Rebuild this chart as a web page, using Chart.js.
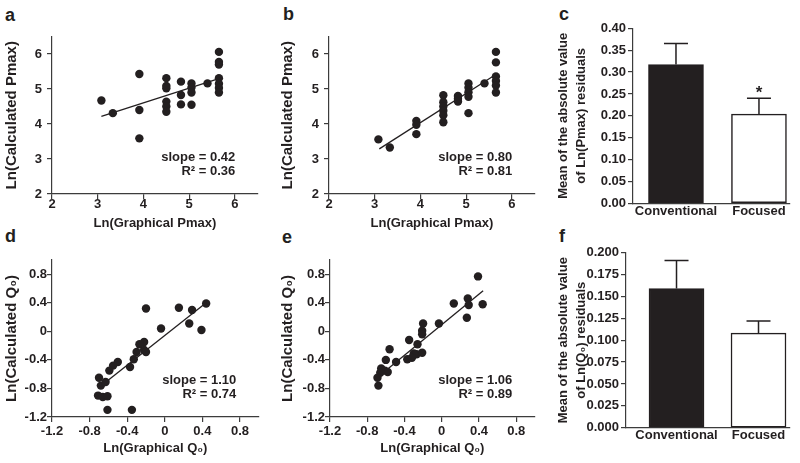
<!DOCTYPE html>
<html>
<head>
<meta charset="utf-8">
<script src="https://cdn.jsdelivr.net/npm/chart.js@4.4.1/dist/chart.umd.min.js"></script>
<style>
  body { margin: 0; background: #fff; width: 800px; height: 463px; position: relative; overflow: hidden; }
  canvas { position: absolute; }
  .tag { position: absolute; font: bold 18px "Liberation Sans", Arial, sans-serif; line-height: 1; color: #231f20; }
</style>
</head>
<body>
<div class="tag" style="left:5px;top:6px">a</div>
<div class="tag" style="left:283px;top:5px">b</div>
<div class="tag" style="left:559px;top:5px">c</div>
<div class="tag" style="left:5px;top:227px">d</div>
<div class="tag" style="left:282px;top:228px">e</div>
<div class="tag" style="left:559px;top:227px">f</div>
<canvas id="chartA"></canvas>
<canvas id="chartB"></canvas>
<canvas id="chartC"></canvas>
<canvas id="chartD"></canvas>
<canvas id="chartE"></canvas>
<canvas id="chartF"></canvas>
<script>
// --- data ---
// a: conventional, Ln(Pmax)
const aX = [3.08, 3.33, 3.91, 3.91, 3.91, 4.50, 4.50, 4.50, 4.50, 4.50, 4.50, 4.82, 4.82, 4.82,
            5.05, 5.05, 5.05, 5.05, 5.40, 5.65, 5.65, 5.65, 5.65, 5.65, 5.65, 5.65];
const aY = [4.67, 4.31, 5.43, 4.40, 3.59, 5.31, 5.09, 5.02, 4.64, 4.50, 4.35, 5.21, 4.83, 4.56,
            5.16, 5.04, 4.90, 4.55, 5.16, 6.06, 5.77, 5.70, 5.31, 5.15, 5.03, 4.90];
const aFitX = [3.08, 5.63];
const aFitY = [4.22, 5.29];

// b: focused, Ln(Pmax)
const bX = [3.08, 3.33, 3.91, 3.91, 3.91, 4.50, 4.50, 4.50, 4.50, 4.50, 4.50, 4.82, 4.82, 4.82,
            5.05, 5.05, 5.05, 5.05, 5.05, 5.40, 5.65, 5.65, 5.65, 5.65, 5.65, 5.65];
const bY = [3.56, 3.33, 4.09, 3.98, 3.71, 4.82, 4.62, 4.50, 4.38, 4.25, 4.05, 4.80, 4.72, 4.64,
            5.16, 5.04, 4.91, 4.78, 4.31, 5.16, 6.06, 5.76, 5.36, 5.23, 5.10, 4.90];
const bFitX = [3.10, 5.63];
const bFitY = [3.29, 5.40];

// d: conventional, Ln(Q0)
const dX = [0.15, -0.20, -0.04, 0.29, 0.26, 0.39, 0.44, -0.22, -0.27, -0.30, -0.22, -0.20, -0.33,
            -0.37, -0.50, -0.55, -0.59, -0.70, -0.68, -0.63, -0.71, -0.66, -0.61, -0.61, -0.35];
const dY = [0.33, 0.32, 0.04, 0.30, 0.11, 0.02, 0.39, -0.15, -0.18, -0.29, -0.26, -0.29, -0.39,
            -0.50, -0.43, -0.48, -0.55, -0.65, -0.76, -0.71, -0.90, -0.92, -0.91, -1.10, -1.10];
const dFitX = [-0.66, 0.44];
const dFitY = [-0.745, 0.40];

// e: focused, Ln(Q0)
const eX = [0.39, 0.13, 0.28, 0.29, 0.44, 0.27, -0.03, -0.20, -0.21, -0.21, -0.35, -0.26, -0.56,
            -0.30, -0.27, -0.21, -0.37, -0.32, -0.49, -0.60, -0.65, -0.61, -0.58, -0.66, -0.69, -0.68];
const eY = [0.77, 0.39, 0.46, 0.37, 0.38, 0.19, 0.11, 0.11, 0.01, -0.04, -0.12, -0.18, -0.25,
            -0.31, -0.32, -0.30, -0.39, -0.37, -0.43, -0.40, -0.52, -0.55, -0.57, -0.58, -0.65, -0.76];
const eFitX = [-0.60, 0.445];
const eFitY = [-0.55, 0.57];

const slopes = ['0.42', '0.80', '1.10', '1.06'];
const rSquared = ['0.36', '0.81', '0.74', '0.89'];

// c, f: residual bars
const barLabels = ['Conventional', 'Focused'];
const pmaxResidMean = [0.317, 0.204];
const pmaxResidSem = [0.048, 0.036];
const q0ResidMean = [0.159, 0.108];
const q0ResidSem = [0.032, 0.014];

const pmaxTicks = [2, 3, 4, 5, 6];
const q0Ticks = [-1.2, -0.8, -0.4, 0, 0.4, 0.8];
const pmaxResidTicks = [0, 0.05, 0.10, 0.15, 0.20, 0.25, 0.30, 0.35, 0.40];
const q0ResidTicks = [0, 0.025, 0.05, 0.075, 0.10, 0.125, 0.15, 0.175, 0.20];

const ink = '#231f20';
const axisColor = '#3c3c3c';
const FONT = '"Liberation Sans", Arial, sans-serif';

Chart.defaults.font.family = FONT;
Chart.defaults.font.size = 13;
Chart.defaults.font.weight = 'bold';
Chart.defaults.color = ink;

// canvas box and plot area are both [left, top, right, bottom] in page pixels
function place(id, box, area) {
    const c = document.getElementById(id);
    c.width = box[2] - box[0];
    c.height = box[3] - box[1];
    c.style.left = box[0] + 'px';
    c.style.top = box[1] + 'px';
    return {
        canvas: c,
        padding: { top: area[1] - box[1], right: box[2] - area[2], left: 0, bottom: 0 },
        yWidth: area[0] - box[0],
        xHeight: box[3] - area[3]
    };
}

function axis(o) {
    return {
        type: 'linear',
        position: o.position,
        min: o.min,
        max: o.max,
        offset: false,
        border: { display: true, color: axisColor, width: 1.2 },
        grid: {
            display: o.tickMarks !== false,
            drawOnChartArea: false,
            drawTicks: o.tickMarks !== false,
            tickLength: 5,
            color: axisColor,
            lineWidth: 1.2
        },
        ticks: { padding: o.pad, color: ink, font: { size: 13, weight: 'bold' }, callback: o.format },
        afterBuildTicks: s => { s.ticks = o.ticks.map(v => ({ value: v })); },
        afterFit: s => {
            if (o.position === 'left') s.width = o.size;
            else s.height = o.size;
        },
        title: {
            display: !!o.title,
            text: o.title,
            color: ink,
            font: { size: o.titleSize || 13, weight: 'bold', lineHeight: o.titleLH || 1.2 },
            padding: o.titlePad
        }
    };
}

const fitLabel = {
    id: 'fitLabel',
    afterDraw(chart, args, opts) {
        if (!opts.lines) return;
        const { ctx, chartArea } = chart;
        ctx.save();
        ctx.font = 'bold 13px ' + FONT;
        ctx.fillStyle = ink;
        ctx.textAlign = 'right';
        ctx.textBaseline = 'middle';
        ctx.fillText(opts.lines[0], chartArea.right - 22.5, chartArea.bottom - 37);
        ctx.fillText(opts.lines[1], chartArea.right - 22.5, chartArea.bottom - 23);
        ctx.restore();
    }
};

const errorBars = {
    id: 'errorBars',
    afterDatasetsDraw(chart, args, opts) {
        if (!opts.sem) return;
        const { ctx } = chart;
        const ys = chart.scales.y;
        const bars = chart.getDatasetMeta(0).data;
        ctx.save();
        ctx.strokeStyle = ink;
        ctx.lineWidth = 1.5;
        bars.forEach((bar, i) => {
            const top = ys.getPixelForValue(opts.mean[i] + opts.sem[i]);
            ctx.beginPath();
            ctx.moveTo(bar.x, bar.y);
            ctx.lineTo(bar.x, top);
            ctx.moveTo(bar.x - 12, top);
            ctx.lineTo(bar.x + 12, top);
            ctx.stroke();
            if (opts.star === i) {
                ctx.font = 'bold 17px ' + FONT;
                ctx.fillStyle = ink;
                ctx.textAlign = 'center';
                ctx.textBaseline = 'alphabetic';
                ctx.fillText('*', bar.x, top);
            }
        });
        ctx.restore();
    }
};

const fmtInt = v => String(v);
const fmtQ0 = v => (Math.abs(v) < 1e-9 ? '0' : v.toFixed(1));

function scatterPanel(id, box, area, o) {
    const p = place(id, box, area);
    return new Chart(p.canvas, {
        type: 'scatter',
        data: {
            datasets: [
                {
                    data: o.xs.map((x, i) => ({ x, y: o.ys[i] })),
                    backgroundColor: ink,
                    borderWidth: 0,
                    pointRadius: 4.2
                },
                {
                    data: o.fitX.map((x, i) => ({ x, y: o.fitY[i] })),
                    showLine: true,
                    borderColor: ink,
                    borderWidth: 1.3,
                    pointRadius: 0
                }
            ]
        },
        options: {
            responsive: false,
            animation: false,
            layout: { padding: p.padding },
            plugins: {
                legend: { display: false },
                tooltip: { enabled: false },
                fitLabel: { lines: ['slope = ' + o.slope, 'R\u00b2 = ' + o.r2] }
            },
            scales: {
                x: axis({ position: 'bottom', min: o.xRange[0], max: o.xRange[1], ticks: o.xTicks,
                          format: o.format, pad: o.xPad, size: p.xHeight,
                          title: o.xTitle, titlePad: { top: 0, bottom: 2 } }),
                y: axis({ position: 'left', min: o.yRange[0], max: o.yRange[1], ticks: o.yTicks,
                          format: o.format, pad: o.yPad, size: p.yWidth,
                          title: o.yTitle, titleSize: 15, titlePad: { top: 3, bottom: 0 } })
            }
        },
        plugins: [fitLabel]
    });
}

function barPanel(id, box, area, o) {
    const p = place(id, box, area);
    return new Chart(p.canvas, {
        type: 'bar',
        data: {
            datasets: [{
                data: o.mean.map((m, i) => ({ x: i + 1, y: m })),
                backgroundColor: [ink, '#ffffff'],
                borderColor: ink,
                borderWidth: 1.5,
                borderSkipped: false,
                barThickness: 55
            }]
        },
        options: {
            responsive: false,
            animation: false,
            layout: { padding: p.padding },
            plugins: {
                legend: { display: false },
                tooltip: { enabled: false },
                errorBars: { mean: o.mean, sem: o.sem, star: o.star }
            },
            scales: {
                x: axis({ position: 'bottom', min: o.xRange[0], max: o.xRange[1],
                          ticks: [1, 2], tickMarks: false, pad: 0, size: p.xHeight,
                          format: v => barLabels[Math.round(v) - 1], title: '' }),
                y: axis({ position: 'left', min: 0, max: o.yMax, ticks: o.yTicks, pad: 2,
                          size: p.yWidth, format: v => v.toFixed(o.decimals),
                          title: o.yTitle, titleLH: 1.45, titlePad: { top: 3.6, bottom: 0 } })
            }
        },
        plugins: [errorBars]
    });
}

scatterPanel('chartA', [0, 20, 262, 233], [52, 36.5, 259, 194], {
    xs: aX, ys: aY, fitX: aFitX, fitY: aFitY, slope: slopes[0], r2: rSquared[0],
    xRange: [2, 6.5], yRange: [2, 6.5], xTicks: pmaxTicks, yTicks: pmaxTicks, format: fmtInt,
    xPad: -2, yPad: 5,
    xTitle: 'Ln(Graphical Pmax)', yTitle: 'Ln(Calculated Pmax)'
});

scatterPanel('chartB', [276, 20, 539, 233], [329, 36.5, 536, 194], {
    xs: bX, ys: bY, fitX: bFitX, fitY: bFitY, slope: slopes[1], r2: rSquared[1],
    xRange: [2, 6.5], yRange: [2, 6.5], xTicks: pmaxTicks, yTicks: pmaxTicks, format: fmtInt,
    xPad: -2, yPad: 5,
    xTitle: 'Ln(Graphical Pmax)', yTitle: 'Ln(Calculated Pmax)'
});

scatterPanel('chartD', [0, 250, 263, 458], [52, 260, 259.5, 417], {
    xs: dX, ys: dY, fitX: dFitX, fitY: dFitY, slope: slopes[2], r2: rSquared[2],
    xRange: [-1.2, 1.0], yRange: [-1.2, 1.0], xTicks: q0Ticks, yTicks: q0Ticks, format: fmtQ0,
    xPad: 2, yPad: 0,
    xTitle: 'Ln(Graphical Q\u2080)', yTitle: 'Ln(Calculated Q\u2080)'
});

scatterPanel('chartE', [276, 250, 539, 458], [330, 260, 536.5, 417], {
    xs: eX, ys: eY, fitX: eFitX, fitY: eFitY, slope: slopes[3], r2: rSquared[3],
    xRange: [-1.2, 1.0], yRange: [-1.2, 1.0], xTicks: q0Ticks, yTicks: q0Ticks, format: fmtQ0,
    xPad: 2, yPad: 0,
    xTitle: 'Ln(Graphical Q\u2080)', yTitle: 'Ln(Calculated Q\u2080)'
});

barPanel('chartC', [550, 15, 795, 226], [633, 28.3, 790, 203.3], {
    mean: pmaxResidMean, sem: pmaxResidSem, star: 1, xRange: [0.482, 2.374],
    yMax: 0.40, yTicks: pmaxResidTicks, decimals: 2,
    yTitle: ['Mean of the absolute value', 'of Ln(Pmax) residuals']
});

barPanel('chartF', [550, 240, 795, 452], [626, 252.7, 790, 427.7], {
    mean: q0ResidMean, sem: q0ResidSem, star: -1, xRange: [0.384, 2.384],
    yMax: 0.20, yTicks: q0ResidTicks, decimals: 3,
    yTitle: ['Mean of the absolute value', 'of Ln(Q\u2080) residuals']
});
</script>
</body>
</html>
